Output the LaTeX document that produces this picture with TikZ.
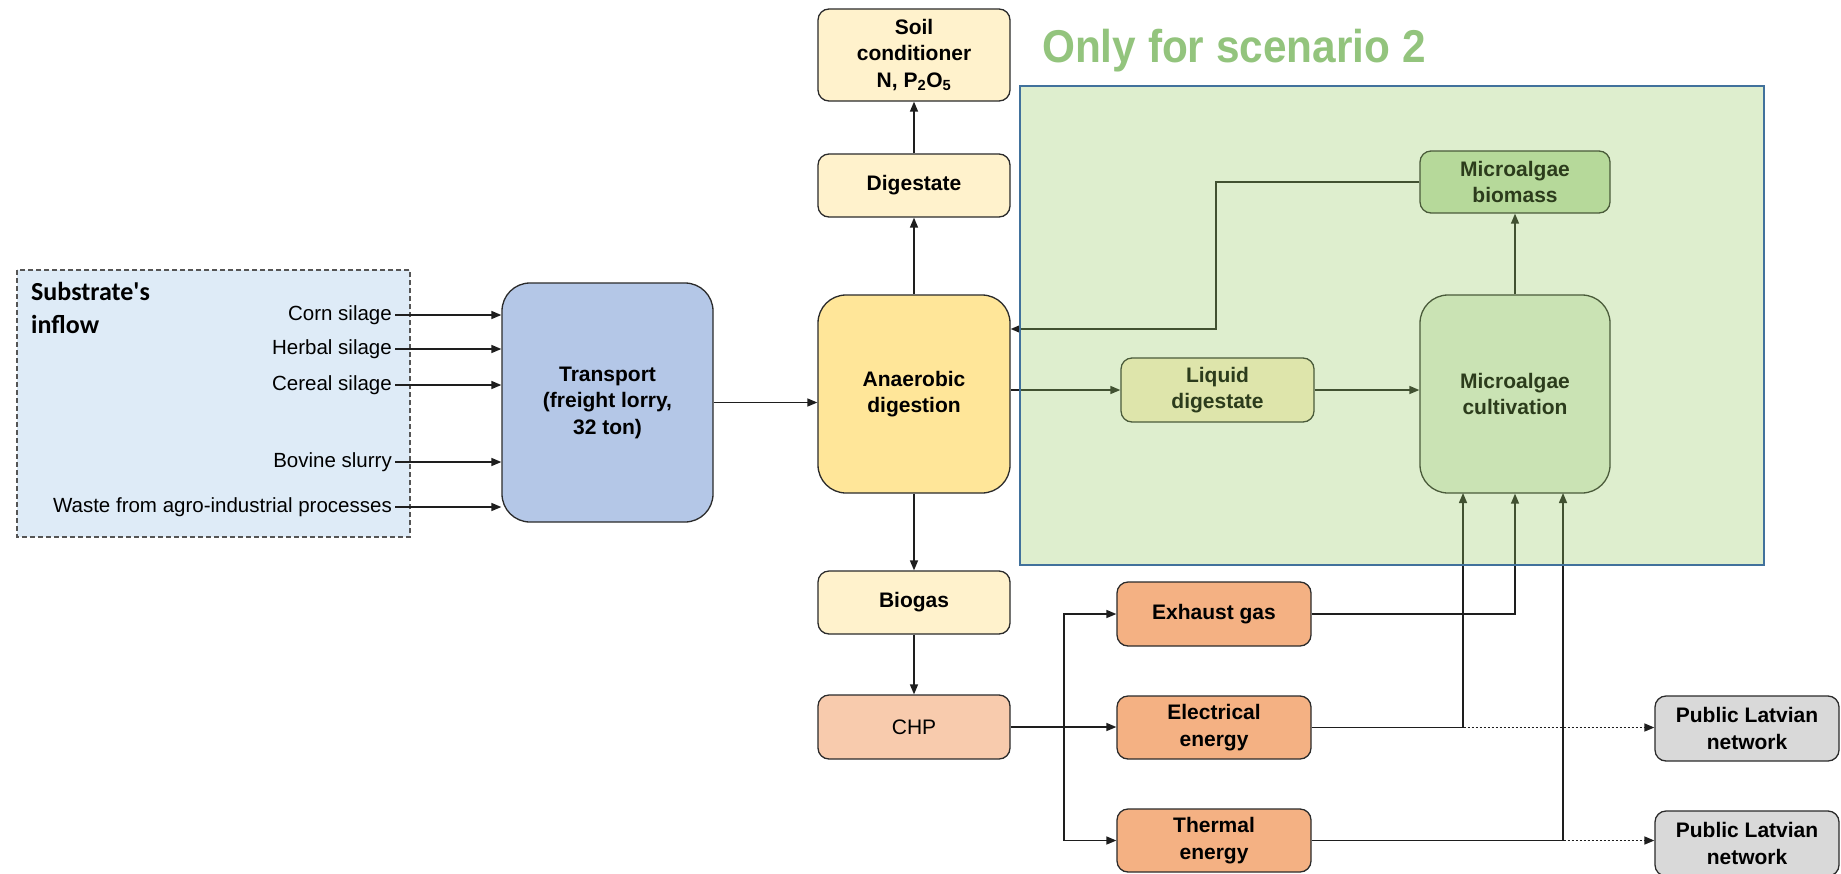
\documentclass[tikz,border=0pt]{standalone}
\usepackage{graphicx}
\usepackage{fontspec}
\setmainfont{Liberation Sans}
\newfontfamily\calibfont{Carlito}
\usetikzlibrary{arrows.meta}

\definecolor{linec}{HTML}{1E1E1E}
\definecolor{edgec}{HTML}{2B2B2B}
\definecolor{subfill}{HTML}{DEEBF7}
\definecolor{trfill}{HTML}{B4C7E7}
\definecolor{adfill}{HTML}{FFE699}
\definecolor{cream}{HTML}{FFF2CC}
\definecolor{chpfill}{HTML}{F8CBAD}
\definecolor{enfill}{HTML}{F4B183}
\definecolor{pubfill}{HTML}{D9D9D9}
\definecolor{biofill}{HTML}{C5E0B4}
\definecolor{cultfill}{HTML}{E2EFD9}
\definecolor{veil}{HTML}{94CA5F}
\definecolor{veilborder}{HTML}{41719C}
\definecolor{titlegreen}{HTML}{93C47D}

\newcommand{\boxfont}{\bfseries\fontsize{21}{26.5}\selectfont}

\begin{document}
\begin{tikzpicture}[x=1pt,y=-1pt,
  box/.style={draw=edgec, line width=1.3pt, rounded corners=11pt, align=center,
              inner sep=2pt, font=\boxfont},
  bigbox/.style={box, rounded corners=28pt},
  arr/.style={draw=linec, line width=1.5pt, -{Triangle[length=10pt,width=8pt]}},
  link/.style={draw=linec, line width=1.5pt},
  dotarr/.style={arr, dash pattern=on 2pt off 2pt},
  srclabel/.style={anchor=east, inner sep=3pt, font=\fontsize{20.5}{24}\selectfont},
]
\useasboundingbox (0,0) rectangle (1841,873);
\clip (0,0) rectangle (1841,873);
\fill[white] (0,0) rectangle (1841,873);

% substrate panel
\draw[fill=subfill, draw=edgec!80, line width=1.3pt, dash pattern=on 5pt off 3pt]
  (17,270) rectangle (410,537);
\node[anchor=north west, inner sep=0pt, align=left,
      font=\calibfont\bfseries\fontsize{26}{33}\selectfont] (subtitle) at (31,282)
  {Substrate's\\inflow};
\node[srclabel] (corn)   at (395,315) {Corn silage};
\node[srclabel] (herbal) at (395,349) {Herbal silage};
\node[srclabel] (cereal) at (395,385) {Cereal silage};
\node[srclabel] (bovine) at (395,462) {Bovine slurry};
\node[srclabel] (waste)  at (395,507) {Waste from agro-industrial processes};

% main process chain
\node[bigbox, fill=trfill, minimum width=211pt, minimum height=239pt] (transport)
  at (607.5,402.5) {Transport\\(freight lorry,\\32 ton)};
\node[bigbox, fill=adfill, minimum width=192pt, minimum height=198pt] (ad)
  at (914,394) {Anaerobic\\digestion};
\node[box, fill=cream, minimum width=192pt, minimum height=92pt] (soil)
  at (914,55) {Soil\\conditioner\\N, P\textsubscript{2}O\textsubscript{5}};
\node[box, fill=cream, minimum width=192pt, minimum height=63pt] (dig)
  at (914,185.5) {Digestate};
\node[box, fill=cream, minimum width=192pt, minimum height=63pt] (biogas)
  at (914,602.5) {Biogas};
\node[box, fill=chpfill, minimum width=192pt, minimum height=64pt,
      font=\fontsize{21}{26}\selectfont] (chp)
  at (914,727) {CHP};

% energy outputs
\node[box, fill=enfill, minimum width=194pt, minimum height=64pt] (exhaust)
  at (1214,614) {Exhaust gas};
\node[box, fill=enfill, minimum width=194pt, minimum height=63pt] (elec)
  at (1214,727.5) {Electrical\\energy};
\node[box, fill=enfill, minimum width=194pt, minimum height=63pt] (thermal)
  at (1214,840.5) {Thermal\\energy};
\node[box, fill=pubfill, minimum width=184pt, minimum height=65pt] (pub1)
  at (1747,728.5) {Public Latvian\\network};
\node[box, fill=pubfill, minimum width=184pt, minimum height=65pt] (pub2)
  at (1747,843.5) {Public Latvian\\network};

% microalgae loop
\node[box, fill=cream, minimum width=193pt, minimum height=64pt] (liquid)
  at (1217.5,390) {Liquid\\digestate};
\node[bigbox, fill=cultfill, minimum width=190pt, minimum height=198pt] (cult)
  at (1515,394) {Microalgae\\cultivation};
\node[box, fill=biofill, minimum width=190pt, minimum height=62pt] (biomass)
  at (1515,182) {Microalgae\\biomass};

% substrate inflows
\foreach \s in {corn,herbal,cereal,bovine,waste}
  \draw[arr] (\s.east) -- (transport.west |- \s.east);

% process connectors
\draw[arr] (transport.east) -- (ad.west |- transport.east);
\draw[arr] (ad.north) -- (dig.south);
\draw[arr] (dig.north) -- (soil.south);
\draw[arr] (ad.south) -- (biogas.north);
\draw[arr] (biogas.south) -- (chp.north);

\coordinate (split) at (1064,727);
\draw[arr] (chp.east) -- (elec.west |- chp.east);
\draw[arr] (split) |- (exhaust.west);
\draw[arr] (split) |- (thermal.west);

\draw[dotarr] (elec.east) -- (pub1.west |- elec.east);
\draw[dotarr] (thermal.east) -- (pub2.west |- thermal.east);

\coordinate (cin1) at (1463,493);
\coordinate (cin3) at (1563,493);
\draw[arr] (exhaust.east) -| (cult.south);
\draw[arr] (elec.east) -| (cin1);
\draw[arr] (thermal.east) -| (cin3);

\draw[arr] (ad.east |- liquid.west) -- (liquid.west);
\draw[arr] (liquid.east) -- (cult.west |- liquid.east);
\draw[arr] (cult.north) -- (biomass.south);
\coordinate (ret) at (1216,329);
\draw[arr] (biomass.west) -| (ret) -- (ad.east |- ret);

% scenario 2 region
\fill[veil, fill opacity=0.3] (1020,86) rectangle (1764,565);
\draw[veilborder, line width=2pt] (1020,86) rectangle (1764,565);
\node[anchor=base west, inner sep=0pt, text=titlegreen,
      font=\bfseries\fontsize{46}{50}\selectfont] (scen) at (1042,62)
  {\scalebox{0.92}[1]{Only for scenario 2}};
\end{tikzpicture}
\end{document}
